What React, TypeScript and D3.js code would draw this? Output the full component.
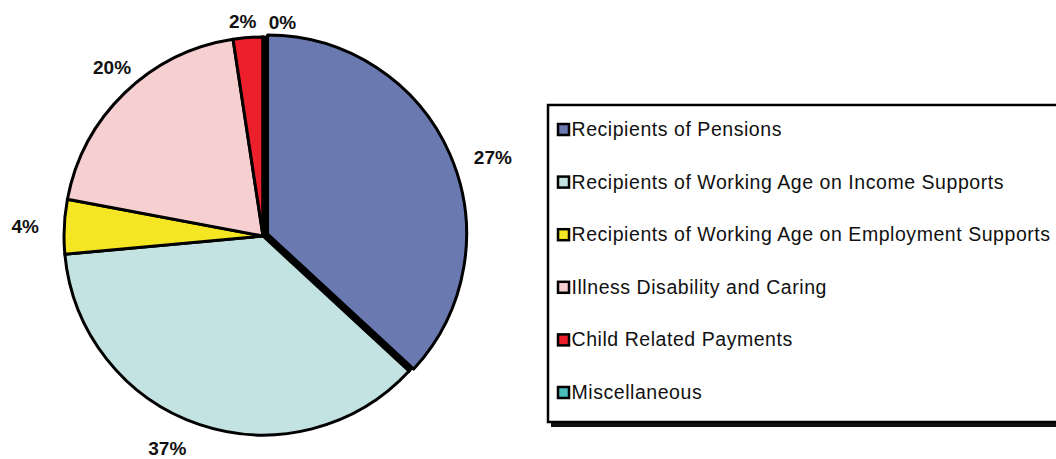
import React from "react";
import * as d3 from "d3";

// categories in legend order (also slice order, clockwise from 12 o'clock)
const categories = [
  "Recipients of Pensions",
  "Recipients of Working Age on Income Supports",
  "Recipients of Working Age on Employment Supports",
  "Illness Disability and Caring",
  "Child Related Payments",
  "Miscellaneous",
];
// slice sizes
const sliceValues = [36.8, 36.6, 4.4, 19.6, 2.4, 0];
// labels as printed on the chart
const sliceLabels = ["27%", "37%", "4%", "20%", "2%", "0%"];
const colors = ["#6a79b0", "#c2e3e1", "#f5e623", "#f6cfd0", "#ee1f2d", "#4bbcbc"];

const W = 1056;
const H = 459;

export default function App() {
  const cx = 263;
  const cy = 236;
  const R = 199;

  const pie = d3.pie<number>().sort(null).value((d) => d);
  const arcs = pie(sliceValues);
  const arc = d3.arc<d3.PieArcDatum<number>>().innerRadius(0).outerRadius(R);

  // label placement tweaks (degrees off the bisector, distance from centre)
  const labelShift = [4.7, 5.5, -0.4, 2.1, -1.1, 5.2];
  const labelDist = [243, 233, 238, 226, 215, 214];

  const explode = 5;
  const blueMid = (arcs[0].startAngle + arcs[0].endAngle) / 2;
  const ex = Math.sin(blueMid) * explode;
  const ey = -Math.cos(blueMid) * explode;

  // legend
  const legX = 548;
  const legY = 105;
  const legH = 317;
  const rowY = d3.scaleLinear().domain([0, categories.length - 1]).range([129, 392]);

  return (
    <svg
      width={W}
      height={H}
      style={{ position: "absolute", left: 0, top: 0, background: "#fff" }}
      fontFamily="'Liberation Sans', Arial, sans-serif"
    >
      <g transform={`translate(${cx},${cy})`}>
        {/* black footprint of the exploded slice fills the gap */}
        <path d={arc(arcs[0]) || ""} fill="#000" stroke="#000" strokeWidth={3} />
        {arcs.map((a, i) => (
          <path
            key={i}
            d={arc(a) || ""}
            transform={i === 0 ? `translate(${ex},${ey})` : undefined}
            fill={colors[i]}
            stroke="#000"
            strokeWidth={3}
            strokeLinejoin="round"
          />
        ))}
        {arcs.map((a, i) => {
          const mid = (a.startAngle + a.endAngle) / 2 + (labelShift[i] * Math.PI) / 180;
          const x = labelDist[i] * Math.sin(mid);
          const y = -labelDist[i] * Math.cos(mid);
          return (
            <text
              key={i}
              x={x}
              y={y}
              textAnchor="middle"
              dominantBaseline="central"
              fontWeight="bold"
              fontSize={19}
              fill="#111"
            >
              {sliceLabels[i]}
            </text>
          );
        })}
      </g>

      {/* legend */}
      <rect x={legX + 3} y={legY + legH} width={W} height={5} fill="#111" />
      <rect
        x={legX}
        y={legY}
        width={W}
        height={legH}
        fill="#fff"
        stroke="#000"
        strokeWidth={2.5}
      />
      {categories.map((name, i) => (
        <g key={name} transform={`translate(${legX + 10},${rowY(i)})`}>
          <rect x={0} y={-5} width={11} height={11} fill={colors[i]} stroke="#000" strokeWidth={2.5} />
          <text
            x={13.5}
            y={0}
            dominantBaseline="central"
            fontSize={19.5}
            letterSpacing={0.55}
            fill="#111"
          >
            {name}
          </text>
        </g>
      ))}
    </svg>
  );
}
